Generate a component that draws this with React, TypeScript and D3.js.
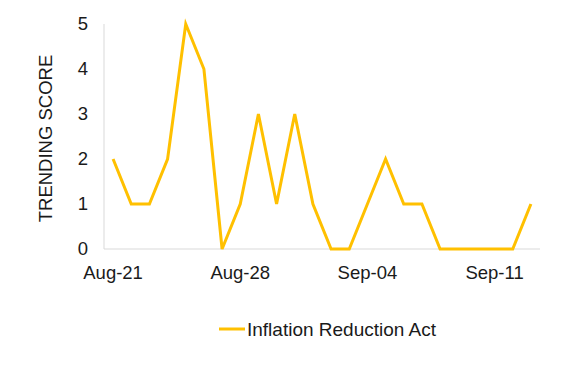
import React from "react";
import * as d3 from "d3";

const dates = [
  "Aug-21", "Aug-22", "Aug-23", "Aug-24", "Aug-25", "Aug-26", "Aug-27", "Aug-28",
  "Aug-29", "Aug-30", "Aug-31", "Sep-01", "Sep-02", "Sep-03", "Sep-04", "Sep-05",
  "Sep-06", "Sep-07", "Sep-08", "Sep-09", "Sep-10", "Sep-11", "Sep-12", "Sep-13",
];
const scores = [2, 1, 1, 2, 5, 4, 0, 1, 3, 1, 3, 1, 0, 0, 1, 2, 1, 1, 0, 0, 0, 0, 0, 1];
const xTickLabels = ["Aug-21", "Aug-28", "Sep-04", "Sep-11"];
const yTicks = [0, 1, 2, 3, 4, 5];
const seriesName = "Inflation Reduction Act";

const W = 571;
const H = 367;
const margin = { left: 104, right: 31, top: 24, bottom: 118 };
const font = "'Liberation Sans', Arial, sans-serif";
const lineColor = "#FFC000";
const textColor = "#1a1a1a";

export default function App() {
  const x = d3
    .scalePoint<string>()
    .domain(dates)
    .range([margin.left, W - margin.right])
    .padding(0.5);
  const y = d3.scaleLinear().domain([0, 5]).range([H - margin.bottom, margin.top]);

  const line = d3
    .line<number>()
    .x((_, i) => x(dates[i]) as number)
    .y((d) => y(d));

  const baseY = y(0);

  return (
    <svg
      width={W}
      height={H}
      style={{ position: "absolute", left: 0, top: 0, background: "#fff" }}
      fontFamily={font}
    >
      {/* axes */}
      <line x1={margin.left} x2={margin.left} y1={margin.top} y2={baseY} stroke="#d9d9d9" />
      <line x1={margin.left} x2={W - margin.right} y1={baseY} y2={baseY} stroke="#d9d9d9" />

      {yTicks.map((t) => (
        <text key={t} x={88} y={y(t)} dy="0.35em" textAnchor="end" fontSize={18.5} fill={textColor}>
          {t}
        </text>
      ))}

      {xTickLabels.map((d) => (
        <text key={d} x={x(d)} y={baseY + 30} textAnchor="middle" fontSize={18.5} fill={textColor}>
          {d}
        </text>
      ))}

      <text
        transform={`translate(52,${(margin.top + baseY) / 2 + 2}) rotate(-90)`}
        textAnchor="middle"
        fontSize={18.5}
        fill={textColor}
      >
        TRENDING SCORE
      </text>

      <path d={line(scores) || ""} fill="none" stroke={lineColor} strokeWidth={3} strokeLinejoin="miter" />

      {/* legend */}
      <line x1={219} x2={245} y1={329} y2={329} stroke={lineColor} strokeWidth={3} />
      <text x={247} y={336} fontSize={19} fill={textColor}>
        {seriesName}
      </text>
    </svg>
  );
}
